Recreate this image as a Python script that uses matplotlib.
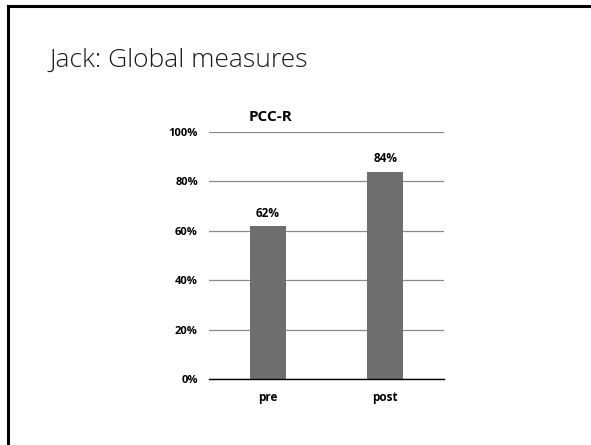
import matplotlib
matplotlib.use("Agg")
import matplotlib.pyplot as plt
from matplotlib.lines import Line2D

# Data
categories = ["pre", "post"]
values = [62, 84]
yTicks = [0, 20, 40, 60, 80, 100]

W, H = 591, 445
fig = plt.figure(figsize=(W / 100, H / 100), dpi=100)

# Slide border (left and top edges visible)
fig.add_artist(Line2D([8 / W, 8 / W], [0, 1 - 6 / H], color="black", linewidth=2.2, transform=fig.transFigure))
fig.add_artist(Line2D([8 / W, 1], [1 - 6 / H, 1 - 6 / H], color="black", linewidth=2.2, transform=fig.transFigure))

# Slide title
fig.text(49 / W, 1 - 60 / H, "Jack: Global measures", fontsize=19, family="Open Sans", fontweight="light",
         ha="left", va="center", color="#1a1a1a")

# Chart title
fig.text(270 / W, 1 - 117 / H, "PCC-R", fontsize=11, family="Open Sans", fontweight="bold",
         ha="center", va="center", color="black")

ax = fig.add_axes([209 / W, 66 / H, 235 / W, 247 / H])
xPos = list(range(len(categories)))
ax.bar(xPos, values, width=0.31, color="#6e6e6e", zorder=3)
for xp, v in zip(xPos, values):
    ax.text(xp, v + 2.5, f"{v}%", ha="center", va="bottom", fontsize=8.5, family="Open Sans",
            fontweight="bold", color="black")

ax.set_xlim(-0.5, 1.5)
ax.set_ylim(0, 100)
ax.set_yticks(yTicks)
ax.set_yticklabels([f"{t}%" for t in yTicks], fontsize=8, family="Open Sans", fontweight="bold")
ax.set_xticks(xPos)
ax.set_xticklabels(categories, fontsize=8.5, family="Open Sans", fontweight="bold")
ax.tick_params(axis="y", length=0, pad=8)
ax.tick_params(axis="x", length=0, pad=9)
ax.grid(axis="y", color="#8a8a8a", linewidth=0.9, zorder=0)
for side in ["top", "right", "left"]:
    ax.spines[side].set_visible(False)
ax.spines["bottom"].set_color("black")
ax.spines["bottom"].set_linewidth(1.0)
ax.spines["bottom"].set_zorder(4)

fig.savefig("out.png", dpi=100)
